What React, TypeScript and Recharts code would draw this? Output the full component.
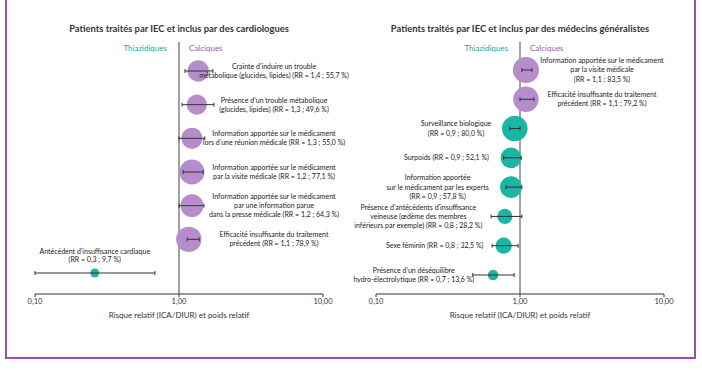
import { ErrorBar, ReferenceLine, Scatter, ScatterChart, XAxis, YAxis, ZAxis } from "recharts";

// Patients traités par IEC et inclus par des cardiologues
const cardioLabels = [
  ["Crainte d’induire un trouble", "métabolique (glucides, lipides) (RR = 1,4 ; 55,7 %)"],
  ["Présence d’un trouble métabolique", "(glucides, lipides) (RR = 1,3 ; 49,6 %)"],
  ["Information apportée sur le médicament", "lors d’une réunion médicale (RR = 1,3 ; 55,0 %)"],
  ["Information apportée sur le médicament", "par la visite médicale (RR = 1,2 ; 77,1 %)"],
  ["Information apportée sur le médicament", "par une information parue", "dans la presse médicale (RR = 1,2 ; 64,3 %)"],
  ["Efficacité insuffisante du traitement", "précédent (RR = 1,1 ; 78,9 %)"],
  ["Antécédent d’insuffisance cardiaque", "(RR = 0,3 ; 9,7 %)"],
];
const cardioRR = [1.36, 1.33, 1.23, 1.23, 1.23, 1.17, 0.26];
const cardioLow = [1.1, 1.05, 1.0, 1.07, 1.0, 1.14, 0.1];
const cardioHigh = [1.72, 1.75, 1.51, 1.47, 1.49, 1.38, 0.68];
const cardioWeight = [55.7, 49.6, 55.0, 77.1, 64.3, 78.9, 9.7];

// Patients traités par IEC et inclus par des médecins généralistes
const gpLabels = [
  ["Information apportée sur le médicament", "par la visite médicale", "(RR = 1,1 ; 83,5 %)"],
  ["Efficacité insuffisante du traitement", "précédent (RR = 1,1 ; 79,2 %)"],
  ["Surveillance biologique", "(RR = 0,9 ; 80,0 %)"],
  ["Surpoids (RR = 0,9 ; 52,1 %)"],
  ["Information apportée", "sur le médicament par les experts", "(RR = 0,9 ; 57,8 %)"],
  ["Présence d’antécédents d’insuffisance", "veineuse (œdème des membres", "inférieurs par exemple) (RR = 0,8 ; 28,2 %)"],
  ["Sexe féminin (RR = 0,8 ; 32,5 %)"],
  ["Présence d’un déséquilibre", "hydro-électrolytique (RR = 0,7 ; 13,6 %)"],
];
const gpRR = [1.1, 1.1, 0.92, 0.865, 0.865, 0.785, 0.77, 0.65];
const gpLow = [1.03, 1.0, 0.85, 0.77, 0.8, 0.63, 0.64, 0.47];
const gpHigh = [1.21, 1.25, 1.0, 1.02, 1.03, 1.03, 0.97, 0.91];
const gpWeight = [83.5, 79.2, 80.0, 52.1, 57.8, 28.2, 32.5, 13.6];

const xTicks = [0.1, 1, 10];
const xTickLabels = ["0,10", "1,00", "10,00"];

const PURPLE = "#b68dcb";
const PURPLE_TEXT = "#9a58b4";
const TEAL = "#19b6a6";
const TEAL_TEXT = "#17a89e";
const INK = "#222";
const FONT = "Lato, 'Open Sans', sans-serif";

function buildRows(labels: string[][], rr: number[], lo: number[], hi: number[], w: number[]) {
  return rr.map((v, i) => ({
    row: i,
    rr: v,
    w: w[i],
    ci: [v - lo[i], hi[i] - v],
    lines: labels[i],
    calc: v >= 1,
  }));
}

const W = 351;
const H = 330;

function makeBubble(refX: number, calcOffset: number, thiazMode: "above" | "left") {
  return (p: any) => {
    const { cx, cy, payload } = p;
    const r = p.width ? p.width / 2 : Math.sqrt((p.size ?? 0) / Math.PI);
    const lines: string[] = payload.lines;
    const lh = 9.2;
    let tx: number;
    let ty0: number;
    if (payload.calc) {
      tx = refX + calcOffset;
      ty0 = cy - ((lines.length - 1) * lh) / 2;
    } else if (thiazMode === "above") {
      tx = cx;
      ty0 = cy - 13.5 - (lines.length - 1) * 7.8;
    } else {
      const width = Math.max(...lines.map((s) => s.length)) * 3.3;
      tx = cx - r - 8 - width / 2;
      ty0 = cy - ((lines.length - 1) * lh) / 2;
    }
    const step = !payload.calc && thiazMode === "above" ? 7.8 : lh;
    return (
      <g>
        <circle cx={cx} cy={cy} r={r} fill={payload.calc ? PURPLE : TEAL} />
        <text textAnchor="middle" fontSize={7} fill={INK} fontFamily={FONT}>
          {lines.map((s, i) => (
            <tspan key={i} x={tx} y={ty0 + i * step} dy="0.35em">
              {s}
            </tspan>
          ))}
        </text>
      </g>
    );
  };
}

function SideLabels(props: any) {
  const vb = props.viewBox || {};
  const x = vb.x ?? 0;
  const y = (vb.y ?? 0) + 9;
  return (
    <g fontFamily={FONT} fontSize={8}>
      <text x={x - 12} y={y} textAnchor="end" fill={TEAL_TEXT}>
        Thiazidiques
      </text>
      <text x={x + 10} y={y} textAnchor="start" fill={PURPLE_TEXT}>
        Calciques
      </text>
    </g>
  );
}

interface PanelProps {
  title: string;
  rows: ReturnType<typeof buildRows>;
  yDomain: [number, number];
  marginLeft: number;
  marginRight: number;
  calcOffset: number;
  thiazMode: "above" | "left";
  left: number;
}

function Panel({ title, rows, yDomain, marginLeft, marginRight, calcOffset, thiazMode, left }: PanelProps) {
  const refX = marginLeft + (W - marginLeft - marginRight) / 2;
  const errProps: any = { zIndex: 1000 };
  return (
    <div style={{ position: "absolute", left, top: 0, width: W, height: H }}>
      <div
        style={{
          position: "absolute",
          top: 23,
          left: refX - 200,
          width: 400,
          textAlign: "center",
          fontFamily: FONT,
          fontWeight: 700,
          fontSize: 9.4,
          color: "#333",
        }}
      >
        {title}
      </div>
      <ScatterChart
        width={W}
        height={H}
        margin={{ top: 42, left: marginLeft, right: marginRight, bottom: 6 }}
        style={{ overflow: "visible" }}
      >
        <XAxis
          type="number"
          dataKey="rr"
          scale="log"
          domain={[0.1, 10]}
          ticks={xTicks}
          tickFormatter={(v: number) => xTickLabels[xTicks.indexOf(v)] ?? v.toFixed(2).replace(".", ",")}
          stroke="#333"
          tick={{ fontSize: 7.5, fill: "#333", fontFamily: FONT }}
          tickSize={3}
          height={30}
          label={{
            value: "Risque relatif (ICA/DIUR) et poids relatif",
            position: "insideBottom",
            offset: 6,
            fontSize: 8,
            fill: "#333",
            fontFamily: FONT,
          }}
        />
        <YAxis type="number" dataKey="row" domain={yDomain} reversed hide />
        <ZAxis type="number" dataKey="w" domain={[0, 100]} range={[0, 640]} />
        <ReferenceLine x={1} stroke="#444" strokeWidth={1} label={<SideLabels />} />
        <Scatter data={rows} isAnimationActive={false} shape={makeBubble(refX, calcOffset, thiazMode)} />
        <Scatter data={rows} isAnimationActive={false} shape={() => <g />} {...errProps}>
          <ErrorBar dataKey="ci" direction="x" width={2} stroke="#333" strokeWidth={1} isAnimationActive={false} {...errProps} />
        </Scatter>
      </ScatterChart>
    </div>
  );
}

export default function App() {
  const cardioRows = buildRows(cardioLabels, cardioRR, cardioLow, cardioHigh, cardioWeight);
  const gpRows = buildRows(gpLabels, gpRR, gpLow, gpHigh, gpWeight);
  return (
    <div style={{ position: "relative", width: 702, height: 370, background: "#fff", overflow: "hidden" }}>
      <style>{"body{margin:0}"}</style>
      <div
        style={{
          position: "absolute",
          left: 5,
          top: 0,
          width: 687,
          height: 357,
          border: "2px solid #9b4fb2",
          borderTop: "none",
        }}
      />
      <Panel
        title="Patients traités par IEC et inclus par des cardiologues"
        rows={cardioRows}
        yDomain={[-0.861, 6.624]}
        marginLeft={35}
        marginRight={28}
        calcOffset={95}
        thiazMode="above"
        left={0}
      />
      <Panel
        title="Patients traités par IEC et inclus par des médecins généralistes"
        rows={gpRows}
        yDomain={[-0.956, 7.649]}
        marginLeft={25}
        marginRight={38}
        calcOffset={82}
        thiazMode="left"
        left={351}
      />
    </div>
  );
}
